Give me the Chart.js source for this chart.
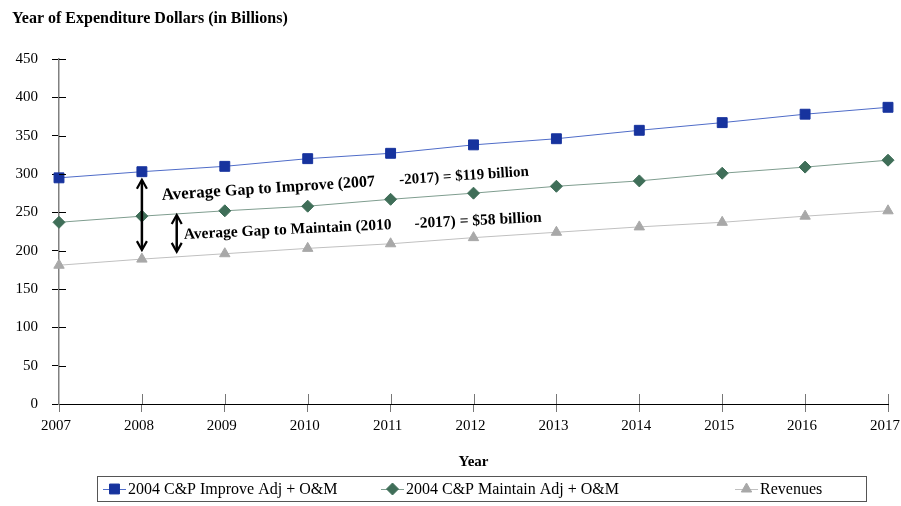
<!DOCTYPE html>
<html>
<head>
<meta charset="utf-8">
<script src="https://cdn.jsdelivr.net/npm/chart.js@4"></script>
<style>
  html, body { margin: 0; padding: 0; background: #fff; }
  #wrap { width: 901px; height: 506px; }
</style>
</head>
<body>
<div id="wrap"><canvas id="myChart" width="901" height="506"></canvas></div>
<script>
"use strict";

const years = ["2007", "2008", "2009", "2010", "2011", "2012", "2013", "2014", "2015", "2016", "2017"];
const improve = [295, 303, 310, 320, 327, 338, 346, 357, 367, 378, 387];
const maintain = [237, 245, 252, 258, 267, 275, 284, 291, 301, 309, 318];
const revenues = [181, 189, 196, 203, 209, 217, 224, 231, 237, 245, 252];
const seriesNames = ["2004 C&P Improve Adj + O&M", "2004 C&P Maintain Adj + O&M", "Revenues"];
const yMin = 0, yMax = 450, yStep = 50;

const titleText = "Year of Expenditure Dollars (in Billions)";
const xTitleText = "Year";
const gapImprove = ["Average Gap to Improve (2007", "-2017) = $119 billion"];
const gapMaintain = ["Average Gap to Maintain (2010", "-2017) = $58 billion"];

const SERIF = "'Liberation Serif', 'DejaVu Serif', serif";

function drawArrow(ctx, x, y1, y2) {
   ctx.save();
   ctx.strokeStyle = "#000";
   ctx.lineWidth = 2.5;
   ctx.beginPath();
   ctx.moveTo(x, y1 + 1);
   ctx.lineTo(x, y2 - 1);
   ctx.stroke();
   ctx.lineWidth = 2.2;
   ctx.beginPath();
   ctx.moveTo(x - 5, y1 + 9);
   ctx.lineTo(x, y1);
   ctx.lineTo(x + 5, y1 + 9);
   ctx.moveTo(x - 5, y2 - 9);
   ctx.lineTo(x, y2);
   ctx.lineTo(x + 5, y2 - 9);
   ctx.stroke();
   ctx.restore();
}

function drawSlanted(ctx, x, y, angle, parts, offset2, font1, font2, font3) {
   ctx.save();
   ctx.translate(x, y);
   ctx.rotate(angle);
   ctx.fillStyle = "#000";
   ctx.textBaseline = "alphabetic";
   ctx.textAlign = "left";
   // "Average" slightly bigger than the rest
   const first = parts[0].split(" ");
   ctx.font = font1;
   ctx.fillText(first[0], 0, 0);
   let w = ctx.measureText(first[0] + " ").width;
   ctx.font = font2;
   ctx.fillText(first.slice(1).join(" "), w, 0);
   ctx.font = font3;
   ctx.fillText(parts[1], offset2, 0);
   ctx.restore();
}

const extras = {
   id: "extras",
   afterDraw(chart) {
      const ctx = chart.ctx;
      const xs = chart.scales.x;
      const ys = chart.scales.y;
      const area = chart.chartArea;

      // ticks crossing the axes (inside part)
      ctx.save();
      ctx.lineWidth = 1;
      ctx.strokeStyle = "#000";
      ctx.beginPath();
      for (let v = yMin + yStep; v <= yMax; v += yStep) {
         const py = Math.round(ys.getPixelForValue(v)) + 0.5;
         ctx.moveTo(area.left, py);
         ctx.lineTo(area.left + 7, py);
      }
      ctx.stroke();
      ctx.strokeStyle = "#777";
      ctx.beginPath();
      for (let i = 1; i < years.length; i++) {
         const px = Math.round(xs.getPixelForValue(i)) + 0.5;
         ctx.moveTo(px, area.bottom);
         ctx.lineTo(px, area.bottom - 10);
      }
      ctx.stroke();
      ctx.restore();

      // title
      ctx.save();
      ctx.fillStyle = "#000";
      ctx.font = "bold 16px " + SERIF;
      ctx.textBaseline = "alphabetic";
      ctx.fillText(titleText, 12, 23);
      ctx.font = "bold 15px " + SERIF;
      ctx.textAlign = "center";
      ctx.fillText(xTitleText, (area.left + area.right) / 2, 466);
      ctx.restore();

      // gap arrows
      const xa = xs.getPixelForValue(1);
      drawArrow(ctx, xa, ys.getPixelForValue(improve[1]) + 8, ys.getPixelForValue(revenues[1]) - 9);
      const t = 0.42;
      const xb = xs.getPixelForValue(1 + t);
      const mb = maintain[1] + t * (maintain[2] - maintain[1]);
      const rb = revenues[1] + t * (revenues[2] - revenues[1]);
      drawArrow(ctx, xb, ys.getPixelForValue(mb) + 1, ys.getPixelForValue(rb) - 5);

      // gap labels
      drawSlanted(ctx, 162, 200, -0.066, gapImprove, 238,
         "bold 17px " + SERIF, "bold 16px " + SERIF, "bold 15px " + SERIF);
      drawSlanted(ctx, 184, 239, -0.048, gapMaintain, 231,
         "bold 15.5px " + SERIF, "bold 15.5px " + SERIF, "bold 15.5px " + SERIF);

      // legend box
      ctx.save();
      ctx.strokeStyle = "#555";
      ctx.lineWidth = 1;
      ctx.strokeRect(97.5, 476.5, 769, 25);
      const items = [
         { ds: chart.data.datasets[0], x: 103 },
         { ds: chart.data.datasets[1], x: 381 },
         { ds: chart.data.datasets[2], x: 735 },
      ];
      const ly = 489;
      items.forEach((it, i) => {
         ctx.strokeStyle = it.ds.borderColor;
         ctx.lineWidth = 1;
         ctx.beginPath();
         ctx.moveTo(it.x, ly + 0.5);
         ctx.lineTo(it.x + 23, ly + 0.5);
         ctx.stroke();
         ctx.fillStyle = it.ds.pointBackgroundColor;
         ctx.strokeStyle = it.ds.pointBorderColor;
         ctx.beginPath();
         Chart.helpers.drawPoint(ctx, {
            pointStyle: it.ds.pointStyle,
            radius: it.ds.pointRadius,
            borderWidth: 1,
            rotation: 0,
         }, it.x + 11.5, ly);
         ctx.fillStyle = "#000";
         ctx.font = "16px " + SERIF;
         ctx.textBaseline = "middle";
         ctx.fillText(seriesNames[i], it.x + 25, ly + 1);
      });
      ctx.restore();
   },
};

const ctx = document.getElementById("myChart").getContext("2d");
const myChart = new Chart(ctx, {
   type: "line",
   data: {
      labels: years,
      datasets: [
         {
            label: seriesNames[0],
            data: improve,
            borderColor: "#4f6cc8",
            borderWidth: 1,
            pointStyle: "rect",
            pointRadius: 7,
            pointBackgroundColor: "#17339e",
            pointBorderColor: "#17339e",
            pointBorderWidth: 1,
         },
         {
            label: seriesNames[1],
            data: maintain,
            borderColor: "#7f9d8f",
            borderWidth: 1,
            pointStyle: "rectRot",
            pointRadius: 6,
            pointBackgroundColor: "#3f6e58",
            pointBorderColor: "#3f6e58",
            pointBorderWidth: 1,
         },
         {
            label: seriesNames[2],
            data: revenues,
            borderColor: "#c0c0c0",
            borderWidth: 1,
            pointStyle: "triangle",
            pointRadius: 6,
            pointBackgroundColor: "#a8a8a8",
            pointBorderColor: "#a8a8a8",
            pointBorderWidth: 1,
         },
      ],
   },
   options: {
      responsive: false,
      animation: false,
      events: [],
      layout: { padding: { left: 0, right: 13, top: 59, bottom: 0 } },
      plugins: {
         legend: { display: false },
         tooltip: { enabled: false },
      },
      scales: {
         x: {
            type: "category",
            offset: false,
            border: { color: "#000", width: 1 },
            grid: { drawOnChartArea: false, tickLength: 8, tickColor: "#777", offset: false },
            ticks: {
               color: "#000",
               padding: 5,
               labelOffset: -3,
               maxRotation: 0,
               autoSkip: false,
               font: { family: SERIF, size: 15 },
            },
            afterFit(scale) {
               scale.height = 102;
               scale.paddingLeft = 0;
               scale.paddingRight = 0;
            },
         },
         y: {
            min: yMin,
            max: yMax,
            border: { color: "#808080", width: 1.5 },
            grid: { drawOnChartArea: false, tickLength: 7, tickColor: "#000" },
            ticks: {
               stepSize: yStep,
               color: "#000",
               padding: 14,
               font: { family: SERIF, size: 15 },
            },
            afterFit(scale) {
               scale.width = 59;
               scale.paddingTop = 0;
               scale.paddingBottom = 0;
            },
         },
      },
   },
   plugins: [extras],
});
</script>
</body>
</html>
